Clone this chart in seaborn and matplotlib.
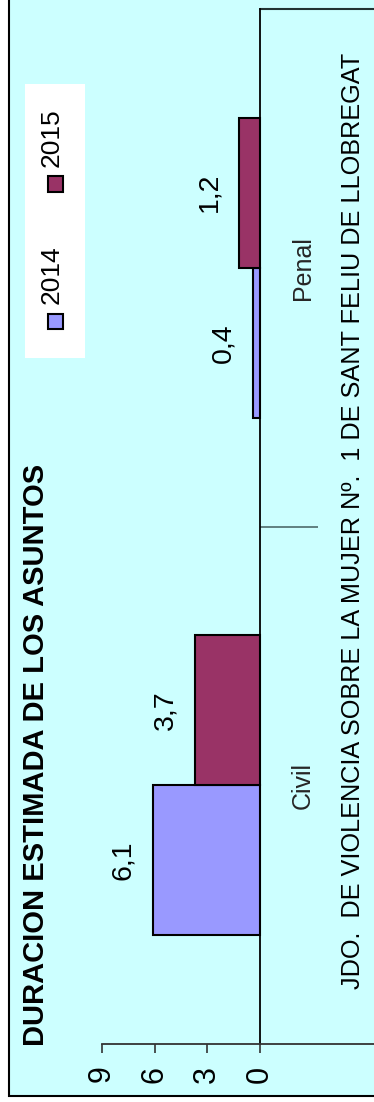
import matplotlib
matplotlib.use("Agg")
import matplotlib.pyplot as plt
from matplotlib.patches import Rectangle
import seaborn as sns
import pandas as pd

# ---- data ----
categories = ["Civil", "Penal"]
years = ["2014", "2015"]
values_2014 = [6.1, 0.4]
values_2015 = [3.7, 1.2]
value_ticks = [0, 3, 6, 9]
title = "DURACION ESTIMADA DE LOS ASUNTOS"
subtitle = "JDO.  DE VIOLENCIA SOBRE LA MUJER Nº.  1 DE SANT FELIU DE LLOBREGAT"

colors = ["#9999FF", "#993366"]
bg = "#CCFFFF"

df = pd.DataFrame({
    "categoria": categories * 2,
    "anio": [years[0]] * len(categories) + [years[1]] * len(categories),
    "valor": values_2014 + values_2015,
})

sns.set_theme(style="white")
plt.rcParams["font.family"] = ["Liberation Sans", "DejaVu Sans"]

W, H = 374, 1102
fig = plt.figure(figsize=(W / 100, H / 100), dpi=100)
fig.patch.set_facecolor("white")

# background frame
frame = Rectangle((9 / W, (H - 1096) / H), 2, 2, transform=fig.transFigure,
                  facecolor=bg, edgecolor="black", linewidth=1.5, zorder=0)
fig.add_artist(frame)

ax_left, ax_right = 102 / W, 1.0
ax_bottom, ax_top = (H - 1044) / H, (H - 9) / H
ax = fig.add_axes([ax_left, ax_bottom, ax_right - ax_left, ax_top - ax_bottom])
ax.set_facecolor("none")

sns.barplot(data=df, y="categoria", x="valor", hue="anio", orient="h",
            palette=colors, saturation=1, width=0.58, edgecolor="black",
            linewidth=1.5, legend=False, ax=ax, zorder=3)

ax.set_ylim(-0.5, 1.5)
px_per_unit = 158 / 9
ax.set_xlim(9, 9 - (W - 102) / px_per_unit)

ax.set_xlabel("")
ax.set_ylabel("")

# value axis
ax.set_xticks(value_ticks)
ax.set_xticklabels([str(t) for t in value_ticks], rotation=90, fontsize=22)
ax.tick_params(axis="x", direction="out", length=6.5, width=1.2, color="#333333",
               pad=9, bottom=True, labelcolor="black")

# category axis at zero
for s in ["left", "top"]:
    ax.spines[s].set_visible(False)
ax.spines["bottom"].set_color("#333333")
ax.spines["bottom"].set_linewidth(1.3)
ax.spines["right"].set_position(("data", 0))
ax.spines["right"].set_color("black")
ax.spines["right"].set_linewidth(1.3)
ax.yaxis.tick_right()
ax.set_yticks([0, 1])
ax.set_yticklabels(categories, rotation=90, fontsize=18, va="center")
ax.tick_params(axis="y", which="major", length=0, pad=22, right=True, left=False)
ax.set_yticks([0.5], minor=True)
ax.tick_params(axis="y", which="minor", length=42, width=1.2, color="#4d6b6b",
               direction="out", right=True, left=False)
ax.grid(False)

# top line of plot area from zero to right edge
xl = ax.get_xlim()
frac0 = (0 - xl[0]) / (xl[1] - xl[0])
ax.axhline(1.5, xmin=frac0, xmax=1, color="#223333", linewidth=1.5, clip_on=False)

# value labels
for p in ax.patches:
    v = p.get_width()
    if v == 0:
        continue
    ax.annotate(f"{v:.1f}".replace(".", ","),
                xy=(v, p.get_y() + p.get_height() / 2),
                xytext=(-21.5, 0), textcoords="offset points",
                rotation=90, ha="center", va="center", fontsize=20.5, color="black")

# title and bottom text
fig.text(36 / W, 1 - 755 / H, title, rotation=90, ha="center", va="center",
         fontsize=21, fontweight="bold", color="black")
fig.text(353 / W, 1 - 521 / H, subtitle, rotation=90, ha="center", va="center",
         fontsize=18.2, color="black")

# manual rotated legend
fig.add_artist(Rectangle((25 / W, 1 - 358 / H), 60 / W, 274 / H,
                         transform=fig.transFigure, facecolor="white",
                         edgecolor="none", zorder=1))
leg_sq_y = [321, 184]
leg_txt_y = [275, 138]
for yr, col, sy, ty in zip(years, colors, leg_sq_y, leg_txt_y):
    fig.add_artist(Rectangle(((55 - 7.5) / W, 1 - (sy + 7.5) / H), 15 / W, 15 / H,
                             transform=fig.transFigure, facecolor=col,
                             edgecolor="black", linewidth=1.5, zorder=2))
    fig.text(52 / W, 1 - ty / H, yr, rotation=90, ha="center", va="center",
             fontsize=19, color="black", zorder=2)

fig.savefig("out.png", dpi=100)
